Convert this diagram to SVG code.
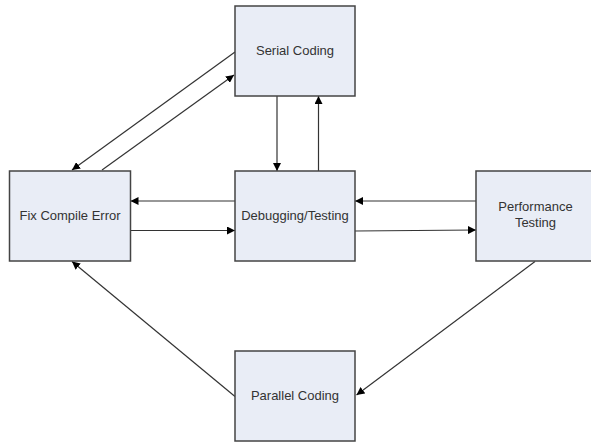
<svg xmlns="http://www.w3.org/2000/svg" width="591" height="443" viewBox="0 0 591 443">
<style>
.box{fill:#E9EDF6;stroke:#444;stroke-width:1.5}
.lbl{font-family:"Liberation Sans",Arial,sans-serif;font-size:13px;fill:#333;text-anchor:middle}
.c{stroke:#333;stroke-width:1.2;fill:none;marker-end:url(#ah)}
</style>
<defs>
<marker id="ah" viewBox="0 0 10 10" refX="10" refY="5" markerWidth="8" markerHeight="8" markerUnits="userSpaceOnUse" orient="auto">
<path d="M0,0 L10,5 L0,10 z" fill="#000"/>
</marker>
</defs>
<rect width="591" height="443" fill="#fff"/>
<g id="connectors">
<line class="c" x1="235" y1="52" x2="72" y2="170"/>
<line class="c" x1="102" y1="170" x2="234" y2="75"/>
<line class="c" x1="277" y1="96" x2="277" y2="171"/>
<line class="c" x1="318.5" y1="171" x2="318.5" y2="96"/>
<line class="c" x1="235" y1="201" x2="130.5" y2="201"/>
<line class="c" x1="130.5" y1="230.5" x2="235" y2="230.5"/>
<line class="c" x1="476" y1="201" x2="355" y2="201"/>
<line class="c" x1="355" y1="231" x2="476" y2="230"/>
<line class="c" x1="535" y1="261.5" x2="356.5" y2="395"/>
<line class="c" x1="235" y1="396.5" x2="72" y2="261.5"/>
</g>
<g id="serial-coding">
<rect class="box" x="235" y="6" width="120" height="90"/>
<text class="lbl" x="295" y="55">Serial Coding</text>
</g>
<g id="fix-compile-error">
<rect class="box" x="9.5" y="171" width="121" height="90"/>
<text class="lbl" x="70" y="220">Fix Compile Error</text>
</g>
<g id="debugging-testing">
<rect class="box" x="235" y="171" width="120" height="90"/>
<text class="lbl" x="295" y="220">Debugging/Testing</text>
</g>
<g id="performance-testing">
<rect class="box" x="476" y="171" width="120" height="90"/>
<text class="lbl" x="535.5" y="211">Performance</text>
<text class="lbl" x="535.5" y="227">Testing</text>
</g>
<g id="parallel-coding">
<rect class="box" x="235" y="351" width="120" height="90"/>
<text class="lbl" x="295" y="400">Parallel Coding</text>
</g>
</svg>
